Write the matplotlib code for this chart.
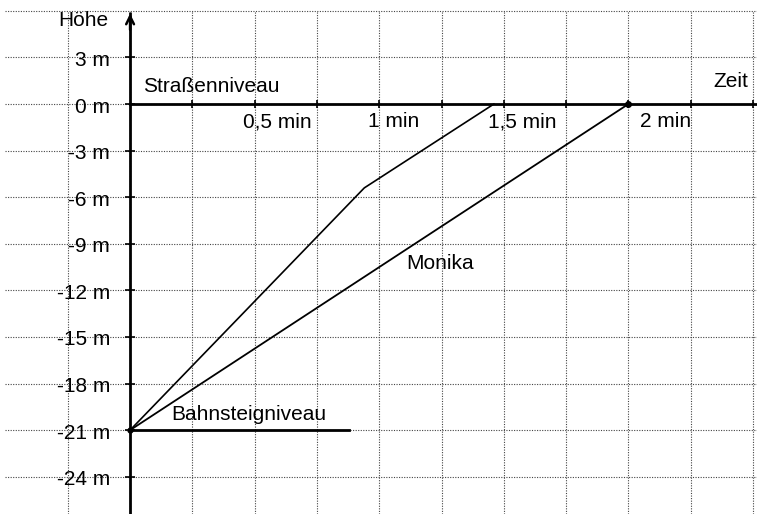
import matplotlib
matplotlib.use("Agg")
import matplotlib.pyplot as plt
import matplotlib.transforms as mtransforms
import numpy as np

# ---- data ----
time_ticks = [0.5, 1.0, 1.5, 2.0]
time_labels = ["0,5 min", "1 min", "1,5 min", "2 min"]
height_ticks = [3, 0, -3, -6, -9, -12, -15, -18, -21, -24]
height_labels = ["3 m", "0 m", "-3 m", "-6 m", "-9 m", "-12 m", "-15 m", "-18 m", "-21 m", "-24 m"]

other_t = [0.0, 0.94, 1.46]
other_h = [-21.0, -5.4, 0.0]
monika_t = [0.0, 2.0]
monika_h = [-21.0, 0.0]
platform_t = [0.0, 0.88]
platform_h = [-21.0, -21.0]
street_level = 0.0

W, H = 757, 514
fig = plt.figure(figsize=(W / 100, H / 100), dpi=100)
ax = fig.add_axes([0, 0, 1, 1])
x0, x1 = -0.522, 2.516
y0, y1 = -26.4, 6.7
ax.set_xlim(x0, x1)
ax.set_ylim(y0, y1)
ax.axis("off")

FONT = "Liberation Sans"
FS = 15
gridc = "#444444"
dots = (0, (1.0, 1.3))

# grid
grid_x = np.arange(-0.25, 2.51, 0.25)
grid_y = np.arange(6, -27, -3)
ax.vlines(grid_x, y0, 6.0, colors=gridc, linestyles=dots, linewidth=0.8, zorder=1)
ax.hlines(grid_y, x0 + 0.02, x1, colors=gridc, linestyles=dots, linewidth=0.8, zorder=1)

# axes
ax.plot([0, 0], [y0, 5.9], color="black", lw=2.0, zorder=3, solid_capstyle="butt")
ax.annotate("", xy=(0, 6.0), xytext=(0, 4.6),
            arrowprops=dict(arrowstyle="->", lw=1.8, color="black", mutation_scale=14), zorder=3)
ax.plot([0, x1], [street_level, street_level], color="black", lw=2.0, zorder=3)

# tick marks
ax.plot([0] * len(height_ticks), height_ticks, linestyle="none", marker="_", markersize=7,
        markeredgewidth=1.2, color="black", zorder=3)
tick_t = np.arange(0.25, 2.51, 0.25)
ax.plot(tick_t, [0] * len(tick_t), linestyle="none", marker="|", markersize=6,
        markeredgewidth=1.2, color="black", zorder=3)

# data lines
ax.plot(other_t, other_h, color="black", lw=1.2, zorder=4)
ax.plot(monika_t, monika_h, color="black", lw=1.3, zorder=4)
ax.plot(platform_t, platform_h, color="black", lw=2.0, zorder=4)
ax.plot([monika_t[-1]], [monika_h[-1]], "o", color="black", markersize=4, zorder=5)
ax.plot([0], [-21], "o", color="black", markersize=3.5, zorder=5)

# tick labels
for v, lab in zip(height_ticks, height_labels):
    tr = mtransforms.offset_copy(ax.transData, fig=fig, x=-20, y=-8.5, units="dots")
    ax.text(0, v, lab, transform=tr, ha="right", va="baseline", fontsize=FS, family=FONT, zorder=6)

label_dx = [-12, -11, -16, 12]
for v, lab, dx in zip(time_ticks, time_labels, label_dx):
    tr = mtransforms.offset_copy(ax.transData, fig=fig, x=dx, y=-23, units="dots")
    ax.text(v, 0, lab, transform=tr, ha="left", va="baseline", fontsize=FS, family=FONT, zorder=6)

def ftext(x, y, s, ha="left"):
    fig.text(x / W, 1 - y / H, s, ha=ha, va="baseline", fontsize=FS, family=FONT)

ftext(58, 26, "Höhe")
ftext(748, 87, "Zeit", ha="right")
ftext(143, 92, "Straßenniveau")
ftext(406, 269, "Monika")
ftext(171, 420, "Bahnsteigniveau")

fig.savefig("out.png", dpi=100, facecolor="white")
